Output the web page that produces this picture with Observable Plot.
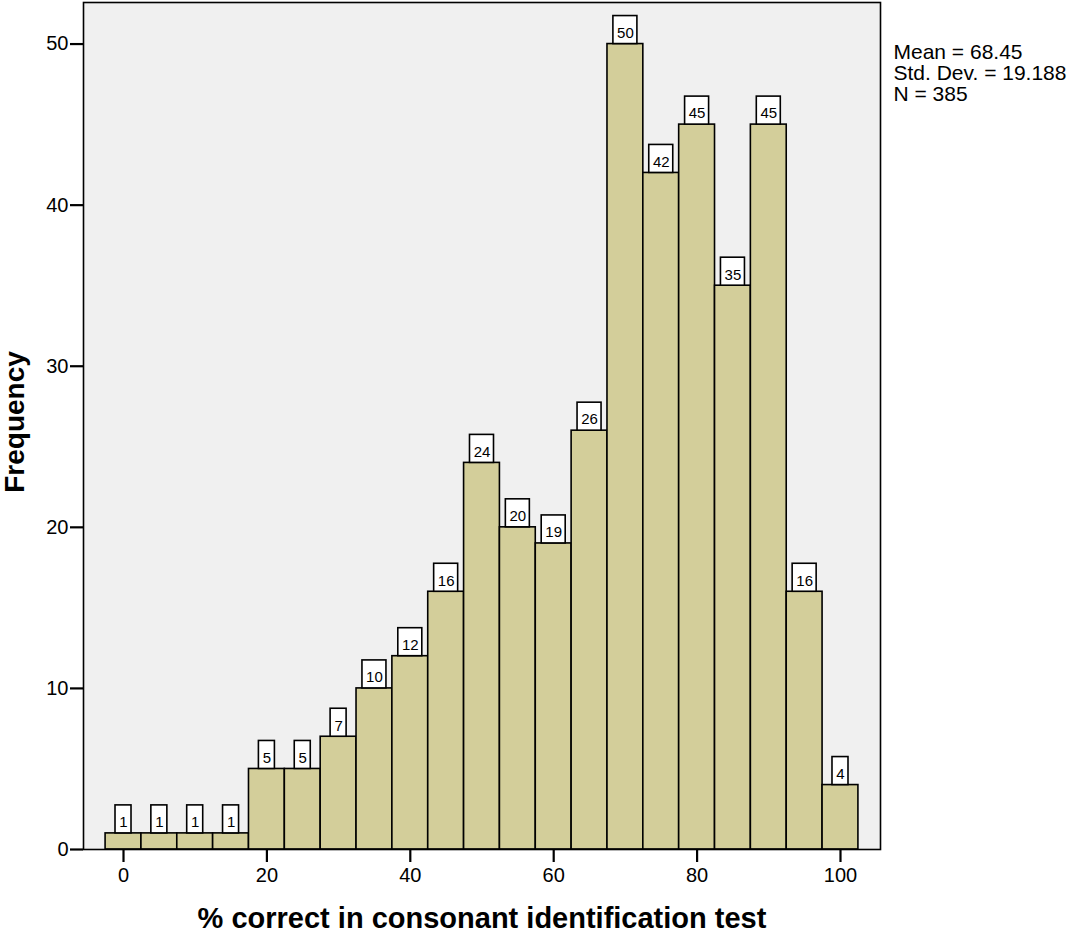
<!DOCTYPE html>
<html>
<head>
<meta charset="utf-8">
<script src="https://cdn.jsdelivr.net/npm/d3@7"></script>
<script src="https://cdn.jsdelivr.net/npm/@observablehq/plot@0.6"></script>
<style>
  html, body { margin: 0; padding: 0; background: #ffffff; }
  #chart { width: 1068px; height: 938px; }
</style>
</head>
<body>
<div id="chart"></div>
<script>
// ---- data ----
const binCenters = [0, 5, 10, 15, 20, 25, 30, 35, 40, 45, 50, 55, 60, 65, 70, 75, 80, 85, 90, 95, 100];
const frequencies = [1, 1, 1, 1, 5, 5, 7, 10, 12, 16, 24, 20, 19, 26, 50, 42, 45, 35, 45, 16, 4];
const xTicks = [0, 20, 40, 60, 80, 100];
const yTicks = [0, 10, 20, 30, 40, 50];
const statsLines = ["Mean = 68.45", "Std. Dev. = 19.188", "N = 385"];
const xTitle = "% correct in consonant identification test";
const yTitle = "Frequency";
const binWidth = 5;

const rows = binCenters.map((b, i) => ({bin: b, count: frequencies[i], label: String(frequencies[i])}));
const oneDigit = rows.filter(d => d.label.length === 1);
const twoDigit = rows.filter(d => d.label.length > 1);

const font = "'Liberation Sans', Arial, Helvetica, sans-serif";
const barFill = "#D3CE9A";

const chart = Plot.plot({
  width: 1068,
  height: 938,
  marginLeft: 83,
  marginRight: 188,
  marginTop: 2,
  marginBottom: 89,
  style: {fontFamily: font, fontSize: "20px", color: "#000", background: "#fff", overflow: "visible"},
  x: {domain: [-5.58, 105.58]},
  y: {domain: [0, 52.58]},
  marks: [
    Plot.frame({fill: "#F0F0F0", stroke: "none"}),
    Plot.rect(rows, {
      x1: d => d.bin - binWidth / 2,
      x2: d => d.bin + binWidth / 2,
      y1: 0,
      y2: "count",
      fill: barFill,
      stroke: "#000",
      strokeWidth: 1.6
    }),
    Plot.rect(oneDigit, {
      x1: "bin", x2: "bin", y1: "count", y2: "count",
      insetLeft: -8, insetRight: -8, insetTop: -28, insetBottom: 0,
      fill: "#fff", stroke: "#000", strokeWidth: 1.6
    }),
    Plot.rect(twoDigit, {
      x1: "bin", x2: "bin", y1: "count", y2: "count",
      insetLeft: -12, insetRight: -12, insetTop: -28, insetBottom: 0,
      fill: "#fff", stroke: "#000", strokeWidth: 1.6
    }),
    Plot.text(rows, {
      x: "bin", y: "count", text: "label",
      dy: -11, lineAnchor: "middle", textAnchor: "middle",
      fontSize: 15, fill: "#000"
    }),
    Plot.frame({stroke: "#000", strokeWidth: 1.6}),
    Plot.axisX({
      ticks: xTicks, tickSize: 13, tickPadding: 5, label: null,
      fontSize: 20, strokeWidth: 2.2, stroke: "#000", fill: "#000"
    }),
    Plot.axisY({
      ticks: yTicks, tickSize: 13, tickPadding: 2, label: null,
      fontSize: 20, strokeWidth: 2.2, stroke: "#000", fill: "#000"
    }),
    Plot.text([xTitle], {
      frameAnchor: "bottom", dy: 69, text: d => d, textAnchor: "middle",
      fontSize: 29, fontWeight: "bold", lineAnchor: "middle", fill: "#000"
    }),
    Plot.text([yTitle], {
      frameAnchor: "left", dx: -68, dy: -4, rotate: -90, text: d => d, textAnchor: "middle",
      fontSize: 28, fontWeight: "bold", lineAnchor: "middle", fill: "#000"
    }),
    Plot.text([statsLines.join("\n")], {
      frameAnchor: "top-right", dx: 13, dy: 42, text: d => d,
      textAnchor: "start", lineAnchor: "top", lineHeight: 1.0,
      fontSize: 21, fill: "#000"
    })
  ]
});
document.getElementById("chart").appendChild(chart);
</script>
</body>
</html>
